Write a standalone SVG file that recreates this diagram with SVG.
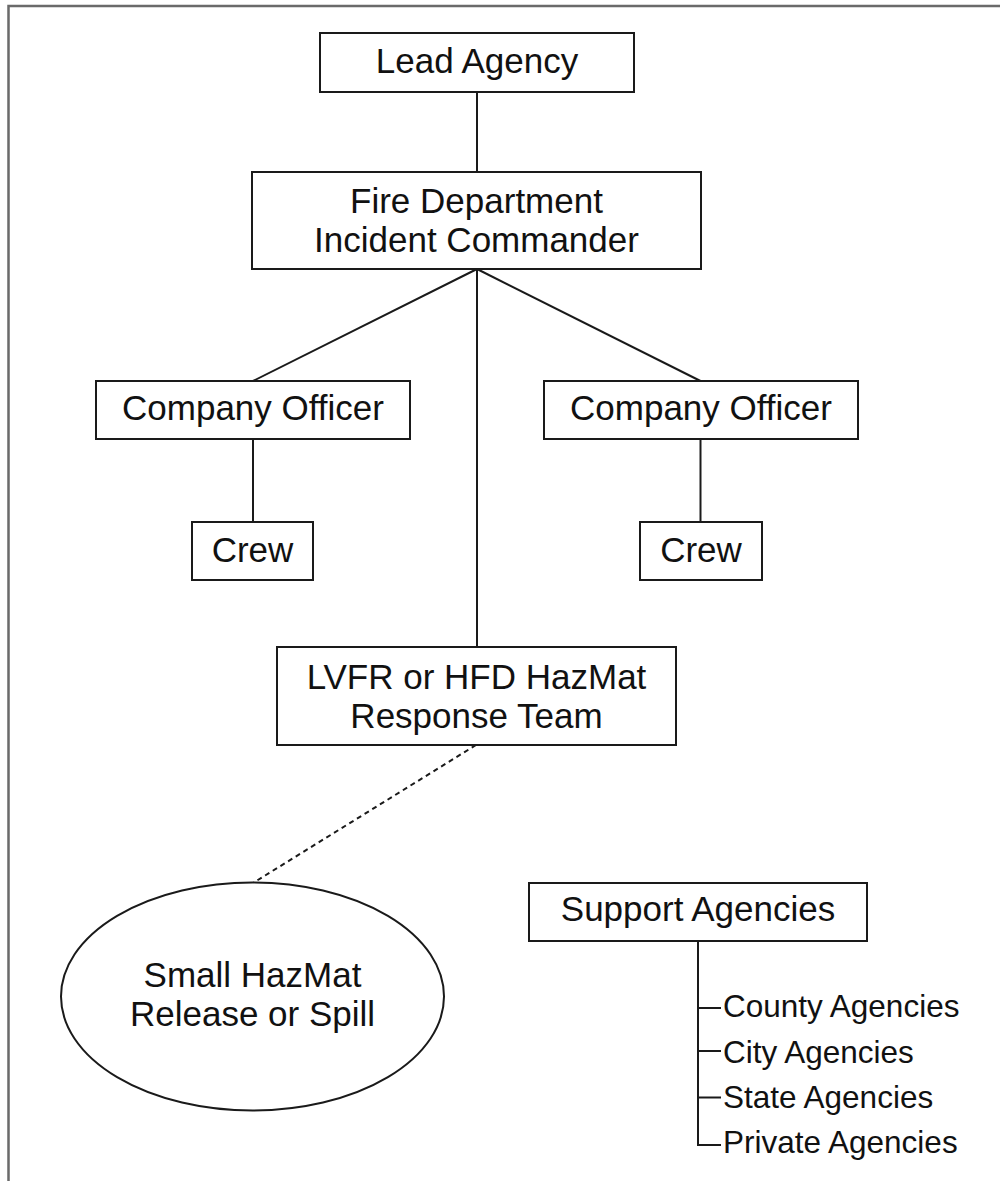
<svg xmlns="http://www.w3.org/2000/svg" width="1000" height="1181" viewBox="0 0 1000 1181">
<style>
.box{fill:#fff;stroke:#1a1a1a;stroke-width:2}
.lbl{font-family:"Liberation Sans",Arial,sans-serif;font-size:35px;fill:#111;text-anchor:middle}
.item{font-family:"Liberation Sans",Arial,sans-serif;font-size:31.5px;fill:#111}
.ln{stroke:#1a1a1a;stroke-width:2;fill:none}
</style>
<rect width="1000" height="1181" fill="#fff"/>
<g id="frame"><path d="M8.5 1181 V6 H1000" fill="none" stroke="#6a6a6a" stroke-width="2.5"/></g>
<g id="connectors">
<line class="ln" x1="477" y1="92" x2="477" y2="172"/>
<line class="ln" x1="477" y1="269" x2="253" y2="381"/>
<line class="ln" x1="477" y1="269" x2="700.5" y2="381"/>
<line class="ln" x1="477" y1="269" x2="477" y2="647"/>
<line class="ln" x1="253" y1="439" x2="253" y2="522"/>
<line class="ln" x1="700.5" y1="439" x2="700.5" y2="522"/>
<line class="ln" x1="476" y1="745" x2="253" y2="883" stroke-dasharray="5,4"/>
<path class="ln" d="M698 941 V1145 H721 M698 1008 H721 M698 1051 H721 M698 1097.5 H721"/>
</g>
<g id="lead"><rect class="box" x="320" y="33" width="314" height="59"/><text class="lbl" x="477" y="73">Lead Agency</text></g>
<g id="fire"><rect class="box" x="252" y="172" width="449" height="97"/><text class="lbl" x="476.5" y="213">Fire Department</text><text class="lbl" x="476.5" y="252">Incident Commander</text></g>
<g id="co-left"><rect class="box" x="96" y="381" width="314" height="58"/><text class="lbl" x="253" y="420">Company Officer</text></g>
<g id="co-right"><rect class="box" x="544" y="381" width="314" height="58"/><text class="lbl" x="701" y="420">Company Officer</text></g>
<g id="crew-left"><rect class="box" x="192" y="522" width="121" height="58"/><text class="lbl" x="252.5" y="562">Crew</text></g>
<g id="crew-right"><rect class="box" x="640" y="522" width="122" height="58"/><text class="lbl" x="701" y="562">Crew</text></g>
<g id="hazmat"><rect class="box" x="277" y="647" width="399" height="98"/><text class="lbl" x="476.5" y="689">LVFR or HFD HazMat</text><text class="lbl" x="476.5" y="728">Response Team</text></g>
<g id="spill"><ellipse class="box" cx="252.5" cy="996.5" rx="191.5" ry="114"/><text class="lbl" x="252.5" y="987">Small HazMat</text><text class="lbl" x="252.5" y="1026">Release or Spill</text></g>
<g id="support"><rect class="box" x="529" y="883" width="338" height="58"/><text class="lbl" x="698" y="921">Support Agencies</text></g>
<g id="support-list">
<text class="item" x="723" y="1017">County Agencies</text>
<text class="item" x="723" y="1063">City Agencies</text>
<text class="item" x="723" y="1108">State Agencies</text>
<text class="item" x="723" y="1153">Private Agencies</text>
</g>
</svg>
